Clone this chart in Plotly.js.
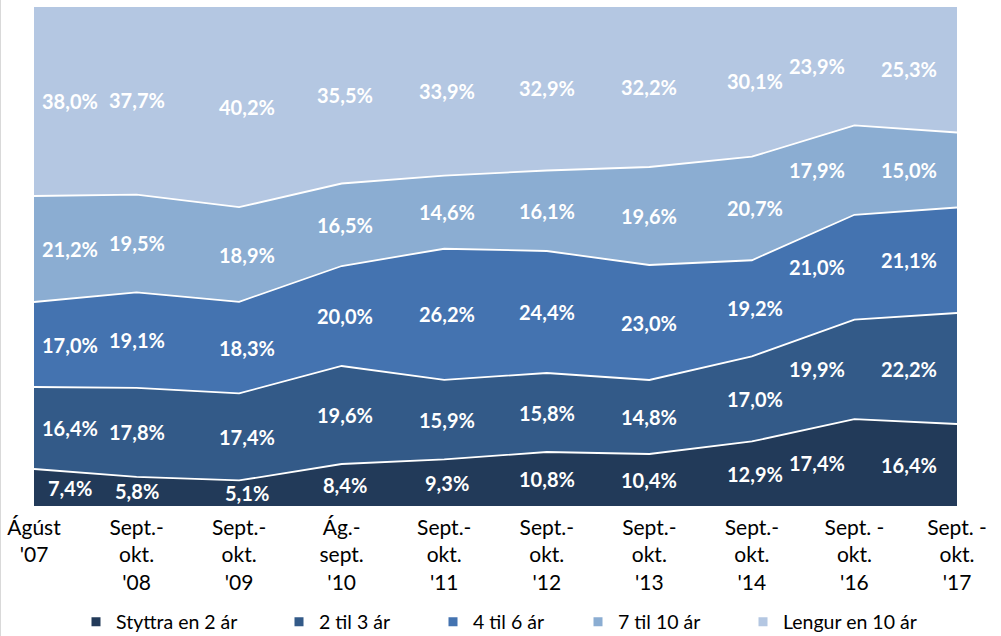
<!DOCTYPE html>
<html>
<head>
<meta charset="utf-8">
<script src="https://cdn.plot.ly/plotly-3.0.1.min.js"></script>
<style>
  html, body { margin: 0; padding: 0; background: #ffffff; }
  #chart { width: 1001px; height: 636px; }
</style>
</head>
<body>
<div id="chart"></div>
<script>
// ---- Data ----
const categories = [
  "Ágúst<br>'07",
  "Sept.-<br>okt.<br>'08",
  "Sept.-<br>okt.<br>'09",
  "Ág.-<br>sept.<br>'10",
  "Sept.-<br>okt.<br>'11",
  "Sept.-<br>okt.<br>'12",
  "Sept.-<br>okt.<br>'13",
  "Sept.-<br>okt.<br>'14",
  "Sept. -<br>okt.<br>'16",
  "Sept. -<br>okt.<br>'17"
];
const seriesNames = ["Styttra en 2 ár", "2 til 3 ár", "4 til 6 ár", "7 til 10 ár", "Lengur en 10 ár"];
const styttra2 = [7.4, 5.8, 5.1, 8.4, 9.3, 10.8, 10.4, 12.9, 17.4, 16.4];
const til2_3   = [16.4, 17.8, 17.4, 19.6, 15.9, 15.8, 14.8, 17.0, 19.9, 22.2];
const til4_6   = [17.0, 19.1, 18.3, 20.0, 26.2, 24.4, 23.0, 19.2, 21.0, 21.1];
const til7_10  = [21.2, 19.5, 18.9, 16.5, 14.6, 16.1, 19.6, 20.7, 17.9, 15.0];
const lengur10 = [38.0, 37.7, 40.2, 35.5, 33.9, 32.9, 32.2, 30.1, 23.9, 25.3];

// ---- Styles / layout helpers ----
const seriesValues = [styttra2, til2_3, til4_6, til7_10, lengur10];
const colors = ["#223a59", "#335a88", "#4473b0", "#8badd2", "#b4c7e2"];
const labelShift = [36, 0, 8, 3, 3, 0, 0, 3, -37, -48];
const legendLeftPx = [76, 279, 433, 578, 743];
const PLOT_L = 34, PLOT_W = 923;
const FONT = "Lato, 'Open Sans', sans-serif";

const traces = [];
seriesValues.forEach((vals, i) => {
  traces.push({
    type: "scatter",
    mode: "lines",
    x: categories,
    y: vals,
    name: seriesNames[i],
    stackgroup: "one",
    groupnorm: "percent",
    line: { color: "#ffffff", width: 1.8 },
    fillcolor: colors[i],
    showlegend: false,
    hoverinfo: "skip"
  });
});
// legend entries with square markers, one legend each
const legendIds = ["legend", "legend2", "legend3", "legend4", "legend5"];
seriesValues.forEach((vals, i) => {
  traces.push({
    type: "scatter",
    mode: "markers",
    x: [null],
    y: [null],
    name: seriesNames[i],
    legend: legendIds[i],
    marker: { symbol: "square", size: 9, color: colors[i] },
    showlegend: true,
    hoverinfo: "skip"
  });
});

// data labels at band centres
const annotations = [];
categories.forEach((cat, j) => {
  const total = seriesValues.reduce((s, v) => s + v[j], 0);
  let base = 0;
  seriesValues.forEach((vals, i) => {
    const v = vals[j];
    const mid = (base + v / 2) / total * 100;
    base += v;
    annotations.push({
      x: j, y: mid, xref: "x", yref: "y",
      text: v.toFixed(1).replace(".", ",") + "%",
      showarrow: false,
      xshift: labelShift[j],
      font: { family: FONT, size: 20, color: "#ffffff", weight: "bold" }
    });
  });
});

const layout = {
  width: 1001,
  height: 636,
  margin: { l: 34, r: 44, t: 6, b: 130 },
  paper_bgcolor: "#ffffff",
  plot_bgcolor: "#ffffff",
  font: { family: FONT, color: "#000000" },
  xaxis: {
    type: "category",
    range: [0, 9],
    showgrid: false,
    zeroline: false,
    showline: false,
    ticks: "",
    ticklabelstandoff: 7,
    tickfont: { family: FONT, size: 21, color: "#000000" },
    fixedrange: true
  },
  yaxis: {
    range: [0, 100],
    visible: false,
    showgrid: false,
    zeroline: false,
    fixedrange: true
  },
  showlegend: true,
  annotations: annotations,
  shapes: [{
    type: "line", xref: "paper", yref: "paper",
    x0: -0.0363, x1: -0.0363, y0: -0.27, y1: 1.02,
    line: { color: "#d9d9d9", width: 1 }
  }]
};
legendIds.forEach((id, i) => {
  layout[id] = {
    orientation: "h",
    x: (legendLeftPx[i] - PLOT_L) / PLOT_W, xanchor: "left",
    yref: "container", y: 0.022, yanchor: "middle",
    font: { family: FONT, size: 19.5, color: "#000000" },
    bgcolor: "rgba(0,0,0,0)"
  };
});

Plotly.newPlot("chart", traces, layout, { displayModeBar: false, staticPlot: true });
</script>
</body>
</html>
